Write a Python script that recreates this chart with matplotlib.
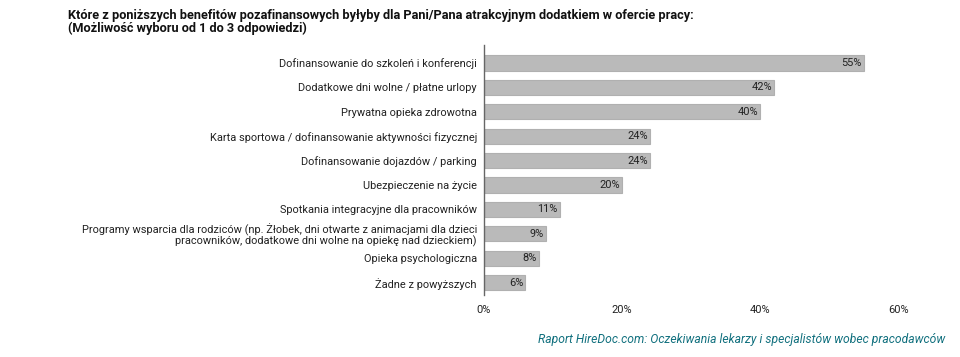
import matplotlib
matplotlib.use("Agg")
import matplotlib.pyplot as plt
from matplotlib.ticker import FuncFormatter

plt.rcParams['font.family'] = ['Roboto', 'DejaVu Sans']

categories = [
    "Dofinansowanie do szkoleń i konferencji",
    "Dodatkowe dni wolne / płatne urlopy",
    "Prywatna opieka zdrowotna",
    "Karta sportowa / dofinansowanie aktywności fizycznej",
    "Dofinansowanie dojazdów / parking",
    "Ubezpieczenie na życie",
    "Spotkania integracyjne dla pracowników",
    "Programy wsparcia dla rodziców (np. Żłobek, dni otwarte z animacjami dla dzieci\npracowników, dodatkowe dni wolne na opiekę nad dzieckiem)",
    "Opieka psychologiczna",
    "Żadne z powyższych",
]
values = [55, 42, 40, 24, 24, 20, 11, 9, 8, 6]
xticks = [0, 20, 40, 60]

fig = plt.figure(figsize=(9.6, 3.57), dpi=100)
ax = fig.add_axes([0.504, 0.174, 0.432, 0.70])

ypos = list(range(len(categories)))
ax.barh(ypos, values, height=0.62, color='#bababa', edgecolor='#b0b0b0', linewidth=0.8)
for y, v in zip(ypos, values):
    ax.text(v - 0.3, y, f"{v}%", ha='right', va='center', fontsize=7.9, color='#222222')

ax.set_yticks(ypos)
ax.set_yticklabels(categories, fontsize=7.9, color='#222222', linespacing=1.0)
ax.set_ylim(len(categories) - 0.5, -0.74)
ax.set_xlim(0, 60)
ax.set_xticks(xticks)
ax.xaxis.set_major_formatter(FuncFormatter(lambda x, p: f"{int(x)}%"))
ax.tick_params(axis='x', length=0, labelsize=7.9, colors='#222222', pad=7)
ax.tick_params(axis='y', length=0, pad=5)
for s in ['top', 'right', 'bottom']:
    ax.spines[s].set_visible(False)
ax.spines['left'].set_color('#666666')
ax.spines['left'].set_linewidth(1.0)

fig.text(68/960, 1 - 16/357, "Które z poniższych benefitów pozafinansowych byłyby dla Pani/Pana atrakcyjnym dodatkiem w ofercie pracy:",
         fontsize=9.2, fontweight='bold', ha='left', va='center', color='#111111')
fig.text(68/960, 1 - 28/357, "(Możliwość wyboru od 1 do 3 odpowiedzi)",
         fontsize=9.2, fontweight='bold', ha='left', va='center', color='#111111')
fig.text(945/960, 1 - 340/357, "Raport HireDoc.com: Oczekiwania lekarzy i specjalistów wobec pracodawców",
         fontsize=8.7, style='italic', ha='right', va='center', color='#11707e')

fig.savefig("out.png", dpi=100)
